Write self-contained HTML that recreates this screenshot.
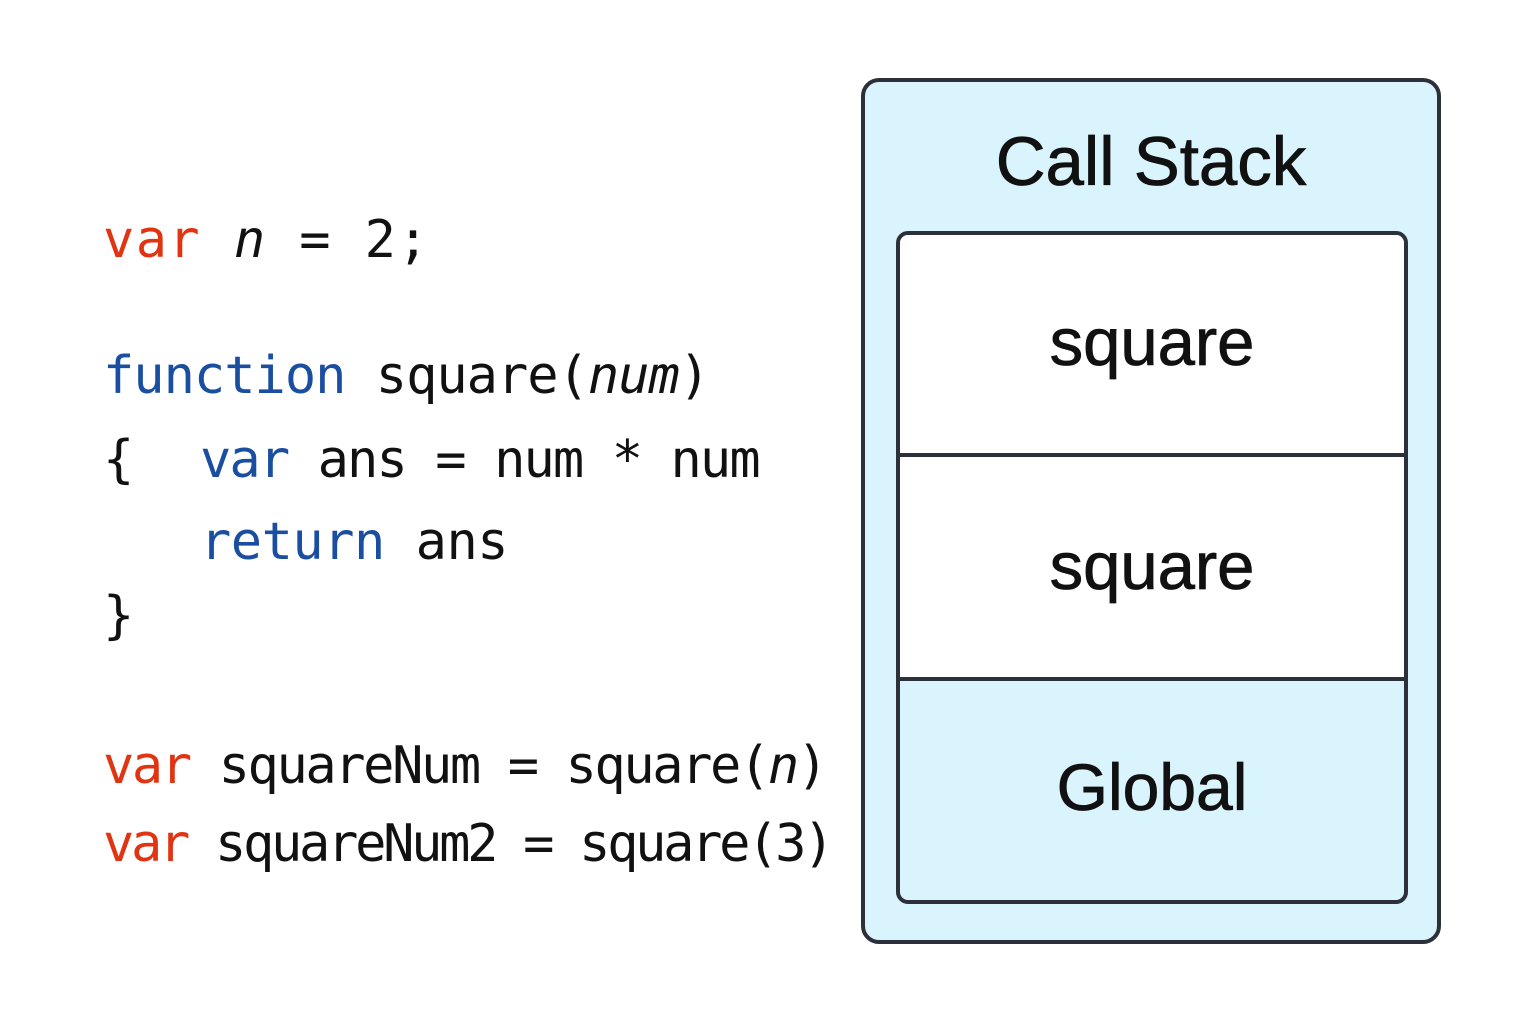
<!DOCTYPE html>
<html><head><meta charset="utf-8"><style>
body{margin:0;width:1536px;height:1024px;background:#fff;position:relative;overflow:hidden;font-family:"DejaVu Sans Mono","Liberation Mono",monospace;}
.t{position:absolute;font-size:52px;line-height:1;white-space:pre;color:#111;}
.r{color:#e03412}.b{color:#1a4ea0}.i{font-style:italic}
.box{position:absolute;box-sizing:border-box;}
.lbl{position:absolute;left:0;width:100%;text-align:center;font-family:"Liberation Sans","DejaVu Sans",sans-serif;color:#111;-webkit-text-stroke:0.8px #111;}
</style></head><body>
<div class="t" style="left:103px;top:214px;letter-spacing:1.4px"><span class="r">var</span> <span class="i">n</span> = 2;</div>
<div class="t" style="left:103px;top:350px;letter-spacing:-1px"><span class="b">function</span> square(<span class="i">num</span>)</div>
<div class="t" style="left:103px;top:434px">{</div>
<div class="t" style="left:200px;top:434px;letter-spacing:-1.9px"><span class="b">var</span> ans = num * num</div>
<div class="t" style="left:200px;top:516px;letter-spacing:-0.5px"><span class="b">return</span> ans</div>
<div class="t" style="left:103px;top:590px">}</div>
<div class="t" style="left:103px;top:740px;letter-spacing:-2.4px"><span class="r">var</span> squareNum = square(<span class="i">n</span>)</div>
<div class="t" style="left:103px;top:818px;letter-spacing:-3.3px"><span class="r">var</span> squareNum2 = square(3)</div>

<div class="box" style="left:861px;top:78px;width:580px;height:866px;border:4px solid #2b303b;border-radius:18px;background:#d9f4fd;">
 <div class="lbl" style="top:40px;font-size:69px;">Call Stack</div>
</div>
<div class="box" style="left:896px;top:231px;width:512px;height:673px;border:4px solid #2b303b;border-radius:12px;background:#d9f4fd;overflow:hidden;">
 <div class="box" style="left:0;top:0;width:100%;height:222px;background:#fff;border-bottom:4px solid #2b303b;"><div class="lbl" style="top:69px;font-size:67px;">square</div></div>
 <div class="box" style="left:0;top:222px;width:100%;height:224px;background:#fff;border-bottom:4px solid #2b303b;"><div class="lbl" style="top:71px;font-size:67px;">square</div></div>
 <div class="lbl" style="top:514px;font-size:66px;">Global</div>
</div>
</body></html>
